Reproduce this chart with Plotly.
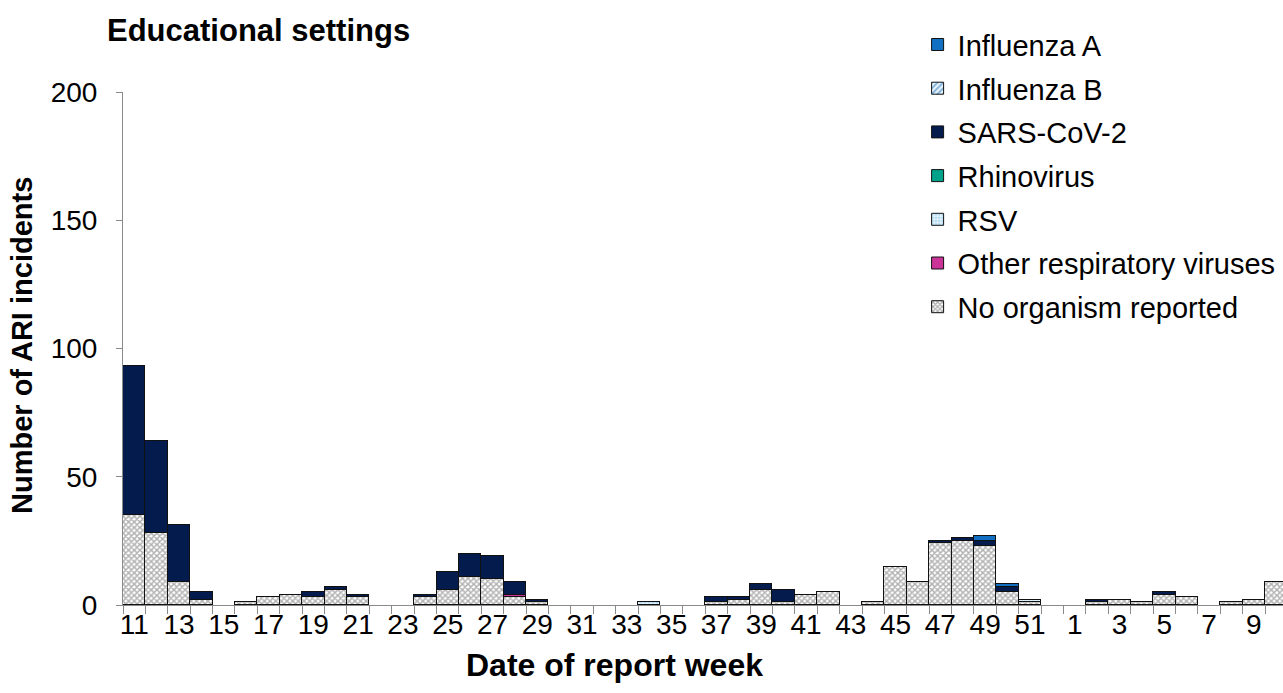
import plotly.graph_objects as go

# Report weeks (11-52 then 1-10 of the following year)
weeks = [11, 12, 13, 14, 15, 16, 17, 18, 19, 20, 21, 22, 23, 24, 25, 26, 27, 28, 29, 30,
         31, 32, 33, 34, 35, 36, 37, 38, 39, 40, 41, 42, 43, 44, 45, 46, 47, 48, 49, 50,
         51, 52, 1, 2, 3, 4, 5, 6, 7, 8, 9, 10]

no_organism = [35, 28, 9, 2, 0, 1, 3, 4, 3, 6, 3, 0, 0, 3, 6, 11, 10, 3, 1, 0,
               0, 0, 0, 0, 0, 0, 1, 2, 6, 1, 4, 5, 0, 1, 15, 9, 24, 25, 23, 5,
               1, 0, 0, 1, 2, 1, 4, 3, 0, 1, 2, 9]
other_resp = [0, 0, 0, 0, 0, 0, 0, 0, 0, 0, 0, 0, 0, 0, 0, 0, 0, 1, 0, 0,
              0, 0, 0, 0, 0, 0, 0, 0, 0, 0, 0, 0, 0, 0, 0, 0, 0, 0, 0, 0,
              0, 0, 0, 0, 0, 0, 0, 0, 0, 0, 0, 0]
rsv = [0, 0, 0, 0, 0, 0, 0, 0, 0, 0, 0, 0, 0, 0, 0, 0, 0, 0, 0, 0,
       0, 0, 0, 1, 0, 0, 0, 0, 0, 0, 0, 0, 0, 0, 0, 0, 0, 0, 0, 0,
       1, 0, 0, 0, 0, 0, 0, 0, 0, 0, 0, 0]
rhinovirus = [0] * 52
sars_cov2 = [58, 36, 22, 3, 0, 0, 0, 0, 2, 1, 1, 0, 0, 1, 7, 9, 9, 5, 1, 0,
             0, 0, 0, 0, 0, 0, 2, 1, 2, 5, 0, 0, 0, 0, 0, 0, 1, 1, 2, 2,
             0, 0, 0, 1, 0, 0, 1, 0, 0, 0, 0, 0]
influenza_b = [0] * 52
influenza_a = [0, 0, 0, 0, 0, 0, 0, 0, 0, 0, 0, 0, 0, 0, 0, 0, 0, 0, 0, 0,
               0, 0, 0, 0, 0, 0, 0, 0, 0, 0, 0, 0, 0, 0, 0, 0, 0, 0, 2, 1,
               0, 0, 0, 0, 0, 0, 0, 0, 0, 0, 0, 0]

y_ticks = [0, 50, 100, 150, 200]

FONT = "Liberation Sans, Arial, sans-serif"
x_idx = list(range(len(weeks)))

# stacking order: bottom to top (legend shows top to bottom)
series = [
    ("No organism reported", no_organism,
     dict(color="white", pattern=dict(shape="x", fgcolor="#5f5f5f", bgcolor="white",
                                      size=4, solidity=0.6))),
    ("Other respiratory viruses", other_resp, dict(color="#CC3399")),
    ("RSV", rsv,
     dict(color="#DDEFFA", pattern=dict(shape=".", fgcolor="#7CC2E8", bgcolor="#E3F2FB",
                                        size=4, solidity=0.45))),
    ("Rhinovirus", rhinovirus, dict(color="#00A38A")),
    ("SARS-CoV-2", sars_cov2, dict(color="#041B4D")),
    ("Influenza B", influenza_b,
     dict(color="white", pattern=dict(shape="/", fgcolor="#1170C2", bgcolor="white",
                                      size=5, solidity=0.6))),
    ("Influenza A", influenza_a, dict(color="#1170C2")),
]

fig = go.Figure()
n = len(series)
for i, (name, vals, marker) in enumerate(series):
    marker = dict(marker)
    marker["line"] = dict(color="#111111", width=1)
    fig.add_trace(go.Bar(
        x=x_idx,
        y=[v if v else None for v in vals],
        name=name,
        legendgroup=name,
        legendrank=n - i,
        marker=marker,
        width=1,
    ))

fig.update_layout(
    width=1283, height=693,
    margin=dict(l=123, r=0, t=92, b=88, autoexpand=False),
    paper_bgcolor="white", plot_bgcolor="white",
    barmode="stack", bargap=0,
    font=dict(family=FONT, size=28, color="black"),
    title=dict(text="<b>Educational settings</b>", font=dict(family=FONT, size=31, color="black"),
               xref="container", x=107 / 1283, xanchor="left",
               yref="container", y=1 - 30 / 693, yanchor="middle"),
    showlegend=True,
    legend=dict(traceorder="grouped", tracegroupgap=3,
                x=0.685, xanchor="left", y=1.142, yanchor="top",
                font=dict(family=FONT, size=29, color="black"),
                bgcolor="rgba(0,0,0,0)", itemclick=False),
    xaxis=dict(
        range=[-0.5, 51.3],
        tickmode="array",
        tickvals=x_idx[::2],
        ticktext=[str(w) for w in weeks[::2]],
        ticks="", showline=True, linecolor="#8a8a8a", linewidth=1,
        showgrid=False, zeroline=False,
        tickfont=dict(family=FONT, size=28, color="black"),
        ticklabelstandoff=-6,
        minor=dict(ticks="outside", tick0=0.5, dtick=1, ticklen=8,
                   tickcolor="#8a8a8a", tickwidth=1, showgrid=False),
    ),
    yaxis=dict(
        range=[0, 200], tickmode="array", tickvals=y_ticks,
        ticks="outside", ticklen=6, tickcolor="#8a8a8a",
        showline=True, linecolor="#8a8a8a", linewidth=1,
        showgrid=False, zeroline=False,
        tickfont=dict(family=FONT, size=28, color="black"),
        ticklabelstandoff=13,
    ),
    annotations=[
        dict(text="<b>Date of report week</b>", xref="paper", yref="paper",
             x=(614 - 123) / 1160, y=(605 - 665) / 513, xanchor="center", yanchor="middle",
             showarrow=False, font=dict(family=FONT, size=32, color="black")),
        dict(text="<b>Number of ARI incidents</b>", xref="paper", yref="paper",
             x=(22 - 123) / 1160, y=(605 - 346) / 513, xanchor="center", yanchor="middle",
             textangle=-90, showarrow=False, font=dict(family=FONT, size=29, color="black")),
    ],
)

fig.write_html("out.html", config={"displayModeBar": False},
               post_script="document.body.style.margin='0';document.body.style.overflow='hidden';")
